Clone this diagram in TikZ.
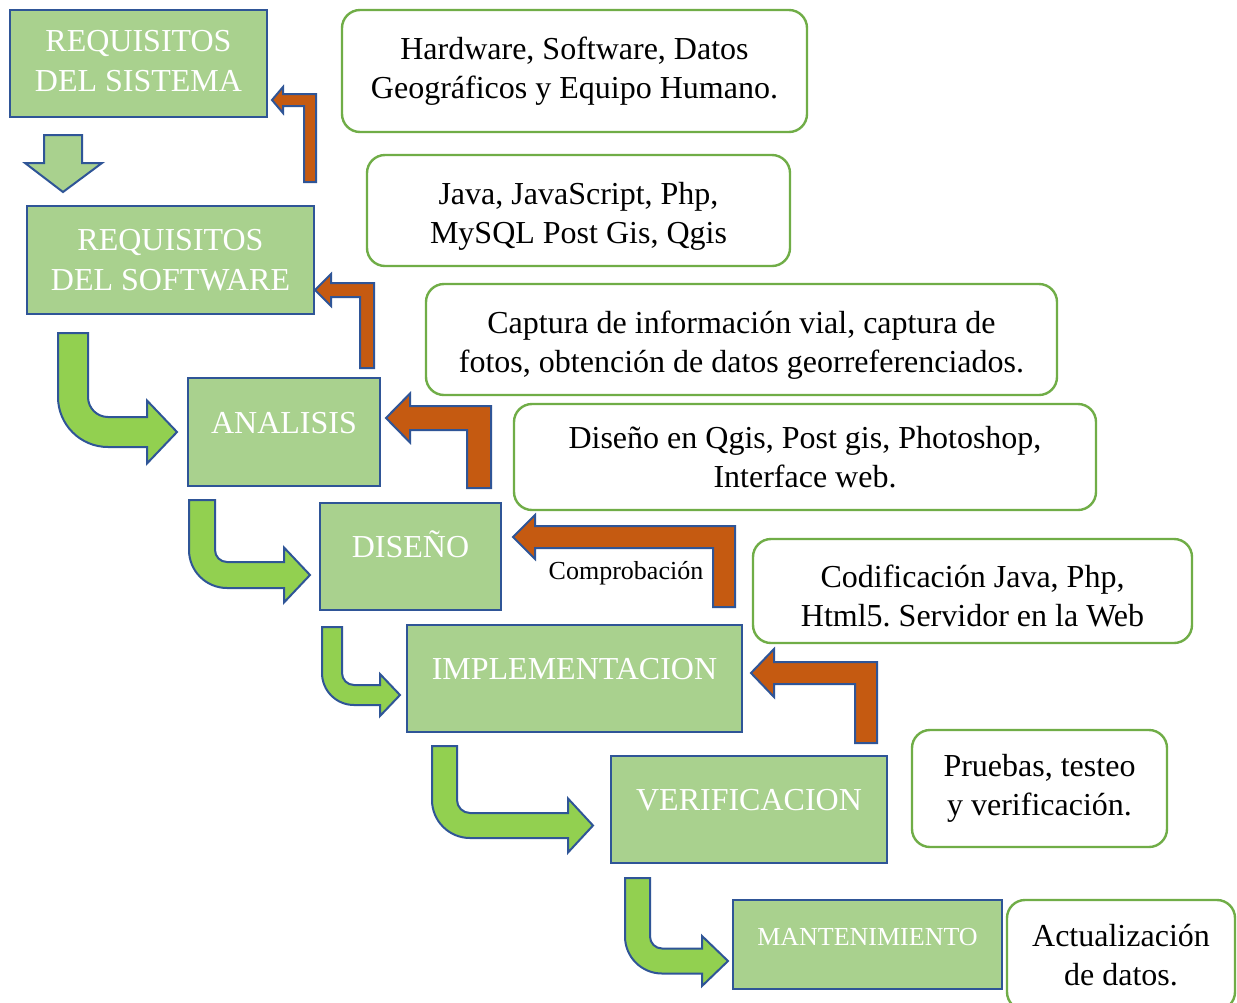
\documentclass[tikz,border=0pt]{standalone}
\usepackage{fontspec}
\setmainfont{Liberation Serif}
\usepackage{tikz}
\usetikzlibrary{calc}
\usepackage{xcolor}
\frenchspacing
\definecolor{stagegreen}{RGB}{169,209,142}
\definecolor{stageblue}{RGB}{47,85,151}
\definecolor{arrowgreen}{RGB}{146,208,80}
\definecolor{backorange}{RGB}{197,90,17}
\definecolor{noteedge}{RGB}{112,173,71}
\tikzset{
 stage/.style={draw=stageblue,fill=stagegreen,line width=1.2pt,text=white,align=center,
  inner sep=0pt,font=\fontsize{16}{20}\selectfont},
 oneline/.style={text height=11pt,text depth=10pt},
 note/.style={draw=noteedge,fill=white,line width=1.2pt,rounded corners=9pt,align=center,
  inner sep=0pt,font=\fontsize{16}{19.5}\selectfont},
 greenarrow/.style={draw=stageblue,fill=arrowgreen,line width=1pt,line join=miter},
 orangearrow/.style={draw=stageblue,fill=backorange,line width=1pt,line join=miter}
}
% green bent arrow: left x, top y, width, inner radius, band centre y, head base x, head half, tip x
\newcommand{\bendright}[8]{%
 \pgfmathsetmacro{\gyA}{#5-#3/2}\pgfmathsetmacro{\gyB}{#5+#3/2}
 \pgfmathsetmacro{\gxA}{#1+#3}\pgfmathsetmacro{\gyC}{\gyA-#4}
 \pgfmathsetmacro{\gxB}{\gxA+#4}\pgfmathsetmacro{\grO}{#4+#3}
 \filldraw[greenarrow] (#1,#2)--(\gxA,#2)--(\gxA,\gyC) arc[start angle=180,end angle=90,radius=#4]
  --(#6,\gyA)--(#6,#5-#7)--(#8,#5)--(#6,#5+#7)--(#6,\gyB)--(\gxB,\gyB)
  arc[start angle=90,end angle=180,radius=\grO]--cycle;}
% orange return arrow: tip x, centre y, head base x, head half, width, right x, bottom y
\newcommand{\bendleft}[7]{%
 \filldraw[orangearrow] (#1,#2)--(#3,#2-#4)--(#3,#2-#5/2)--(#6,#2-#5/2)--(#6,#7)--(#6-#5,#7)
  --(#6-#5,#2+#5/2)--(#3,#2+#5/2)--(#3,#2+#4)--cycle;}

\begin{document}
\begin{tikzpicture}[x=0.5pt,y=-0.5pt]
 \useasboundingbox[fill=white] (0,0) rectangle (1237,1002);
 % stages
 \node[stage,minimum width=128.5pt,minimum height=53.5pt] (sis) at (138.5,63.5) {REQUISITOS\\DEL SISTEMA\\[-17pt]};
 \node[stage,minimum width=143.5pt,minimum height=54pt] (soft) at (170.5,260) {REQUISITOS\\DEL SOFTWARE};
 \node[stage,oneline,minimum width=96pt,minimum height=54pt] (ana) at (284,432) {ANALISIS};
 \node[stage,oneline,minimum width=90.5pt,minimum height=53.5pt] (dis) at (410.5,556.5) {DISEÑO};
 \node[stage,oneline,minimum width=167.5pt,minimum height=53.5pt] (imp) at (574.5,678.5) {IMPLEMENTACION};
 \node[stage,oneline,minimum width=138pt,minimum height=53.5pt] (ver) at (749,809.5) {VERIFICACION};
 \node[stage,oneline,minimum width=134.5pt,minimum height=44.5pt,font=\fontsize{13}{16}\selectfont]
  (man) at (867.5,944.5) {MANTENIMIENTO};
 % notes
 \node[note,minimum width=232.5pt,minimum height=61pt] (hw) at (574.5,71) {Hardware, Software, Datos\\Geográficos y Equipo Humano.};
 \node[note,minimum width=211.5pt,minimum height=55.5pt] (java) at (578.5,210.5) {\\[-3pt]Java, JavaScript, Php,\\MySQL Post Gis, Qgis};
 \node[note,minimum width=315.5pt,minimum height=55.5pt] (cap) at (741.5,339.5) {\\[-3pt]Captura de información vial, captura de\\fotos, obtención de datos georreferenciados.};
 \node[note,minimum width=291pt,minimum height=53pt] (qgis) at (805,457) {Diseño en Qgis, Post gis, Photoshop,\\Interface web.};
 \node[note,minimum width=219.5pt,minimum height=52pt] (cod) at (972.5,591) {\\[-3pt]Codificación Java, Php,\\Html5. Servidor en la Web};
 \node[note,minimum width=127.5pt,minimum height=58.5pt] (test) at (1039.5,788.5) {Pruebas, testeo\\y verificación.};
 \node[note,minimum width=114pt,minimum height=55pt] (act) at (1121,955) {Actualización\\de datos.};
 % forward arrows
 \filldraw[greenarrow,fill=stagegreen] (44,135)--(82,135)--(82,163)--(102,163)--(63,192)--(25,163)--(44,163)--cycle;
 \bendright{58}{333}{30}{20}{432}{147}{31.5}{177}
 \bendright{189}{500}{26}{12}{575}{284}{27.5}{310}
 \bendright{322}{627}{20}{12}{695}{380}{21}{400}
 \bendright{432}{746}{25}{13}{825.5}{568}{27}{593}
 \bendright{625}{878}{25}{12}{961}{702}{25}{728}
 % return arrows
 \bendleft{272}{100}{283}{13}{12}{316}{182}
 \bendleft{315}{290}{331}{16}{14}{374}{368}
 \bendleft{386}{418}{410}{24.5}{24}{491}{488}
 \bendleft{513}{537}{535}{22}{22}{735}{607}
 \bendleft{751}{673}{774}{24}{22}{877}{743}
 \node[font=\fontsize{13}{16}\selectfont] (comp) at (626,573) {Comprobación};
\end{tikzpicture}
\end{document}
